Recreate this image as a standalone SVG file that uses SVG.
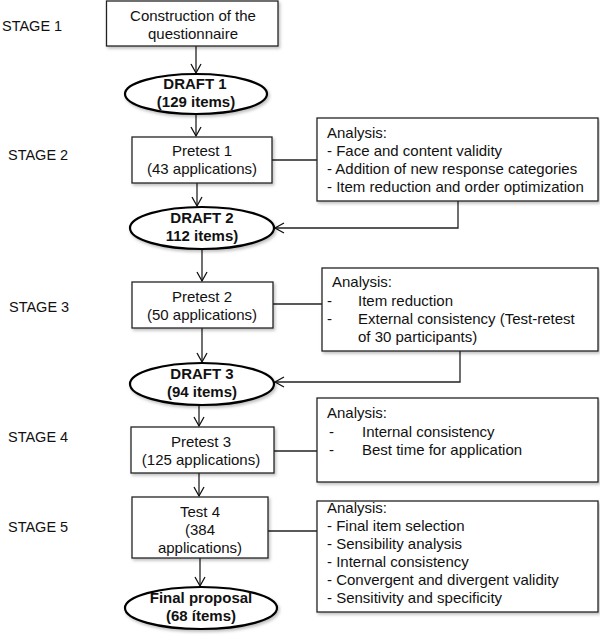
<svg xmlns="http://www.w3.org/2000/svg" width="600" height="643" viewBox="0 0 600 643">
<defs>
<marker id="arr" markerWidth="12" markerHeight="12" refX="10" refY="6" orient="auto" markerUnits="userSpaceOnUse">
<path d="M1,1 L10,6 L1,11" fill="none" stroke="#111" stroke-width="1.3"/>
</marker>
<filter id="sh" x="-10%" y="-10%" width="130%" height="140%">
<feDropShadow dx="1.5" dy="2" stdDeviation="1.5" flood-color="#000" flood-opacity="0.25"/>
</filter>
</defs>
<style>
text{font-family:"Liberation Sans",Arial,Helvetica,sans-serif;font-size:15px;fill:#111}
.c{text-anchor:middle}
.b{font-weight:bold}
.st{font-size:14.5px}
.box{fill:#fff;stroke:#222;stroke-width:1.3}
.ell{fill:#fff;stroke:#000;stroke-width:2.2}
.ln{fill:none;stroke:#222;stroke-width:1.3}
</style>
<g id="stages">
<text class="st" x="2" y="31">STAGE 1</text>
<text class="st" x="8" y="160">STAGE 2</text>
<text class="st" x="9" y="312">STAGE 3</text>
<text class="st" x="8" y="442">STAGE 4</text>
<text class="st" x="8" y="532">STAGE 5</text>
</g>
<g id="connectors">
<line class="ln" x1="196" y1="46" x2="196" y2="73" marker-end="url(#arr)"/>
<line class="ln" x1="196" y1="114" x2="196" y2="136" marker-end="url(#arr)"/>
<line class="ln" x1="197" y1="183" x2="197" y2="206" marker-end="url(#arr)"/>
<line class="ln" x1="272" y1="160" x2="317" y2="160"/>
<polyline class="ln" points="458,201 458,228 275,228" marker-end="url(#arr)"/>
<line class="ln" x1="202" y1="249" x2="202" y2="281" marker-end="url(#arr)"/>
<line class="ln" x1="202" y1="328" x2="202" y2="362" marker-end="url(#arr)"/>
<line class="ln" x1="273" y1="304" x2="322" y2="304"/>
<polyline class="ln" points="460,351 460,382 275,382" marker-end="url(#arr)"/>
<line class="ln" x1="199" y1="405" x2="199" y2="426" marker-end="url(#arr)"/>
<line class="ln" x1="274" y1="451" x2="317" y2="451"/>
<line class="ln" x1="199" y1="473" x2="199" y2="496" marker-end="url(#arr)"/>
<line class="ln" x1="268" y1="531" x2="317" y2="531"/>
<line class="ln" x1="200" y1="558" x2="200" y2="586" marker-end="url(#arr)"/>
</g>
<g id="construction">
<rect class="box" filter="url(#sh)" x="106.5" y="1" width="171.5" height="45"/>
<text class="c" x="193" y="21">Construction of the</text>
<text class="c" x="193" y="39">questionnaire</text>
</g>
<g id="draft1">
<ellipse class="ell" filter="url(#sh)" cx="196" cy="94" rx="71" ry="20"/>
<text class="c b" x="195" y="89">DRAFT 1</text>
<text class="c b" x="196" y="107">(129 items)</text>
</g>
<g id="pretest1">
<rect class="box" filter="url(#sh)" x="132" y="137" width="140" height="46"/>
<text class="c" x="202" y="156">Pretest 1</text>
<text class="c" x="202" y="174">(43 applications)</text>
</g>
<g id="analysis1">
<rect class="box" filter="url(#sh)" x="317" y="118" width="281" height="83"/>
<text x="327" y="138">Analysis:</text>
<text x="327" y="156">- Face and content validity</text>
<text x="327" y="174">- Addition of new response categories</text>
<text x="327" y="192">- Item reduction and order optimization</text>
</g>
<g id="draft2">
<ellipse class="ell" filter="url(#sh)" cx="202" cy="228" rx="72" ry="21"/>
<text class="c b" x="202" y="223">DRAFT 2</text>
<text class="c b" x="202" y="241">112 items)</text>
</g>
<g id="pretest2">
<rect class="box" filter="url(#sh)" x="132" y="282" width="141" height="46"/>
<text class="c" x="202" y="302">Pretest 2</text>
<text class="c" x="202" y="320">(50 applications)</text>
</g>
<g id="analysis2">
<rect class="box" filter="url(#sh)" x="322" y="268" width="276" height="83"/>
<text x="332" y="287">Analysis:</text>
<text x="327" y="306">-</text>
<text x="358" y="306">Item reduction</text>
<text x="327" y="324">-</text>
<text x="358" y="324">External consistency (Test-retest</text>
<text x="358" y="342">of 30 participants)</text>
</g>
<g id="draft3">
<ellipse class="ell" filter="url(#sh)" cx="202" cy="384" rx="72" ry="21"/>
<text class="c b" x="202" y="379">DRAFT 3</text>
<text class="c b" x="202" y="397">(94 items)</text>
</g>
<g id="pretest3">
<rect class="box" filter="url(#sh)" x="131" y="427" width="143" height="46"/>
<text class="c" x="201" y="447">Pretest 3</text>
<text class="c" x="201" y="465">(125 applications)</text>
</g>
<g id="analysis3">
<rect class="box" filter="url(#sh)" x="317" y="398" width="281" height="84"/>
<text x="327" y="418">Analysis:</text>
<text x="329" y="437">-</text>
<text x="362" y="437">Internal consistency</text>
<text x="329" y="455">-</text>
<text x="362" y="455">Best time for application</text>
</g>
<g id="test4">
<rect class="box" filter="url(#sh)" x="132" y="497" width="136" height="61"/>
<text class="c" x="200" y="517">Test 4</text>
<text class="c" x="200" y="535">(384</text>
<text class="c" x="200" y="553">applications)</text>
</g>
<g id="analysis4">
<rect class="box" filter="url(#sh)" x="317" y="501" width="281" height="111"/>
<text x="327" y="513">Analysis:</text>
<text x="327" y="531">- Final item selection</text>
<text x="327" y="549">- Sensibility analysis</text>
<text x="327" y="567">- Internal consistency</text>
<text x="327" y="585">- Convergent and divergent validity</text>
<text x="327" y="603">- Sensitivity and specificity</text>
</g>
<g id="final">
<ellipse class="ell" filter="url(#sh)" cx="201" cy="608" rx="76" ry="21"/>
<text class="c b" x="201" y="603">Final proposal</text>
<text class="c b" x="201" y="621">(68 ítems)</text>
</g>
</svg>
